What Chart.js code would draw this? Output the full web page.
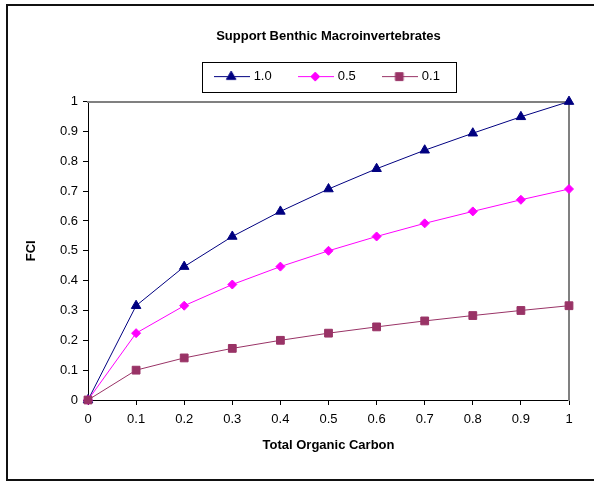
<!DOCTYPE html>
<html>
<head>
<meta charset="utf-8">
<title>Support Benthic Macroinvertebrates</title>
<script src="https://cdn.jsdelivr.net/npm/chart.js@4.4.1/dist/chart.umd.min.js"></script>
<style>
    html, body { margin: 0; padding: 0; background: #fff; }
    canvas { display: block; }
</style>
</head>
<body>
<canvas id="fci-chart" width="594" height="482"></canvas>
<script>
// values
var toc = [0, 0.1, 0.2, 0.3, 0.4, 0.5, 0.6, 0.7, 0.8, 0.9, 1];
var fci10 = [0, 0.316, 0.447, 0.548, 0.632, 0.707, 0.775, 0.837, 0.894, 0.949, 1];
var fci05 = [0, 0.224, 0.316, 0.387, 0.447, 0.5, 0.548, 0.592, 0.632, 0.671, 0.707];
var fci01 = [0, 0.1, 0.141, 0.173, 0.2, 0.224, 0.245, 0.265, 0.283, 0.3, 0.316];
var seriesNames = ['1.0', '0.5', '0.1'];
var xTicks = ['0', '0.1', '0.2', '0.3', '0.4', '0.5', '0.6', '0.7', '0.8', '0.9', '1'];
var yTicks = ['0', '0.1', '0.2', '0.3', '0.4', '0.5', '0.6', '0.7', '0.8', '0.9', '1'];

var FONT = '"Liberation Sans", Arial, Helvetica, sans-serif';
var colors = ['#000080', '#FF00FF', '#993366'];
var styles = ['triangle', 'rectRot', 'rect'];
var radii = [5.5, 4.5, 5.5];

function points(ys) {
    return ys.map(function(y, i) { return {x: toc[i], y: y}; });
}

// small "line + marker" icon for the legend, like the Excel one
function legendIcon(i) {
    var c = document.createElement('canvas');
    c.width = 36;
    c.height = 13;
    var g = c.getContext('2d');
    g.strokeStyle = colors[i];
    g.fillStyle = colors[i];
    g.lineWidth = 1;
    g.beginPath();
    g.moveTo(0, 6.5);
    g.lineTo(36, 6.5);
    g.stroke();
    Chart.helpers.drawPoint(g, {pointStyle: styles[i], radius: radii[i], borderWidth: 1, rotation: 0}, 17, 6.5);
    return c;
}

var datasets = [fci10, fci05, fci01].map(function(ys, i) {
    return {
        label: seriesNames[i],
        data: points(ys),
        borderColor: colors[i],
        backgroundColor: colors[i],
        borderWidth: 1,
        pointStyle: styles[i],
        pointRadius: radii[i],
        pointBorderWidth: 1,
        pointHoverRadius: radii[i],
        clip: false,
        order: 2 - i
    };
});

var frame = {
    id: 'frame',
    afterDraw: function(chart) {
        var ctx = chart.ctx;
        ctx.save();
        // outer border of the chart object
        ctx.strokeStyle = '#111';
        ctx.lineWidth = 2;
        ctx.strokeRect(7, 5, 600, 475);
        // box round the legend
        var boxes = chart.legend.legendHitBoxes;
        if (boxes && boxes.length) {
            var first = boxes[0], last = boxes[boxes.length - 1];
            var cy = first.top + first.height / 2;
            ctx.lineWidth = 1;
            ctx.strokeStyle = '#000';
            ctx.strokeRect(Math.round(first.left - 15) + 0.5, Math.round(cy - 15) + 0.5,
                Math.round(last.left + last.width + 16 - (first.left - 15)), 30);
        }
        ctx.restore();
    }
};

var chart = new Chart(document.getElementById('fci-chart'), {
    type: 'line',
    data: { datasets: datasets },
    plugins: [frame],
    options: {
        responsive: false,
        animation: false,
        layout: { padding: { left: 20, right: 25, top: 0, bottom: 25 } },
        plugins: {
            tooltip: { enabled: false },
            title: {
                display: true,
                fullSize: false,
                text: 'Support Benthic Macroinvertebrates',
                color: '#000',
                font: { family: FONT, size: 13, weight: 'bold' },
                padding: { top: 29, bottom: -4 }
            },
            legend: {
                display: true,
                fullSize: false,
                labels: {
                    usePointStyle: true,
                    pointStyleWidth: 30,
                    padding: 29.5,
                    color: '#000',
                    font: { family: FONT, size: 13 },
                    generateLabels: function() {
                        return seriesNames.map(function(n, i) {
                            return { text: n, pointStyle: legendIcon(i), datasetIndex: i, lineWidth: 0, hidden: false };
                        });
                    }
                }
            }
        },
        scales: {
            x: {
                type: 'linear',
                min: 0,
                max: 1,
                afterFit: function(s) { s.height = 57; },
                ticks: {
                    stepSize: 0.1,
                    color: '#000',
                    padding: 7,
                    maxRotation: 0,
                    font: { family: FONT, size: 13 },
                    callback: function(v, i) { return xTicks[i]; }
                },
                grid: { drawOnChartArea: false, drawTicks: true, tickLength: 5, color: '#000' },
                border: { color: '#000', width: 1 },
                title: {
                    display: true,
                    text: 'Total Organic Carbon',
                    color: '#000',
                    font: { family: FONT, size: 13, weight: 'bold' },
                    padding: { top: 0, bottom: 4 }
                }
            },
            y: {
                type: 'linear',
                min: 0,
                max: 1,
                afterFit: function(s) { s.width = 68; },
                ticks: {
                    stepSize: 0.1,
                    color: '#000',
                    padding: 5,
                    font: { family: FONT, size: 13 },
                    callback: function(v, i) { return yTicks[i]; }
                },
                grid: { drawOnChartArea: false, drawTicks: true, tickLength: 5, color: '#000' },
                border: { color: '#000', width: 1 },
                title: {
                    display: true,
                    text: 'FCI',
                    color: '#000',
                    font: { family: FONT, size: 13, weight: 'bold' },
                    padding: { top: 3.5, bottom: 0 }
                }
            },
            // grey top and right edges of the plot area
            x2: {
                type: 'linear',
                position: 'top',
                min: 0,
                max: 1,
                afterFit: function(s) { s.height = 8.5; },
                ticks: { display: false },
                grid: { drawOnChartArea: false, drawTicks: false },
                border: { color: '#808080', width: 2 }
            },
            y2: {
                type: 'linear',
                position: 'right',
                min: 0,
                max: 1,
                afterFit: function(s) { s.width = 0; },
                ticks: { display: false },
                grid: { drawOnChartArea: false, drawTicks: false },
                border: { color: '#808080', width: 2 }
            }
        }
    }
});
</script>
</body>
</html>
